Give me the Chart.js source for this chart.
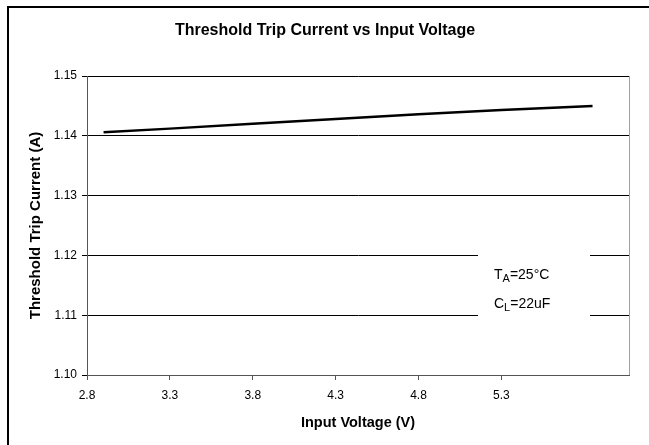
<!DOCTYPE html>
<html>
<head>
<meta charset="utf-8">
<script src="https://cdn.jsdelivr.net/npm/chart.js@4/dist/chart.umd.min.js"></script>
<style>
  html, body { margin: 0; padding: 0; background: #fff; }
  #wrap { width: 649px; height: 445px; }
</style>
</head>
<body>
<div id="wrap"><canvas id="c" width="649" height="445"></canvas></div>
<script>
// data
const voltage = [2.9, 3.3, 3.8, 4.3, 4.8, 5.3, 5.85];
const tripCurrent = [1.1406, 1.1412, 1.1420, 1.1428, 1.1436, 1.1443, 1.1450];
const xTickLabels = [2.8, 3.3, 3.8, 4.3, 4.8, 5.3];
const yTickLabels = [1.10, 1.11, 1.12, 1.13, 1.14, 1.15];

const FONT = "'Liberation Sans', Arial, sans-serif";

const decorations = {
  id: "decorations",
  afterDraw(chart) {
    const ctx = chart.ctx;
    const area = chart.chartArea;
    ctx.save();

    // outer frame (left + top only visible)
    ctx.strokeStyle = "#000";
    ctx.lineWidth = 2;
    ctx.beginPath();
    ctx.moveTo(8, 445);
    ctx.lineTo(8, 7);
    ctx.lineTo(649, 7);
    ctx.stroke();

    // right edge of plot area
    ctx.strokeStyle = "#a0a0a0";
    ctx.lineWidth = 1;
    ctx.beginPath();
    ctx.moveTo(area.right + 0.5, area.top);
    ctx.lineTo(area.right + 0.5, area.bottom);
    ctx.stroke();

    // titles
    ctx.fillStyle = "#000";
    ctx.textAlign = "center";
    ctx.textBaseline = "middle";
    ctx.font = "bold 16px " + FONT;
    ctx.fillText("Threshold Trip Current vs Input Voltage", 325, 31);

    ctx.font = "bold 14.5px " + FONT;
    ctx.fillText("Input Voltage (V)", (area.left + area.right) / 2, 423);

    ctx.save();
    ctx.translate(36, (area.top + area.bottom) / 2);
    ctx.rotate(-Math.PI / 2);
    ctx.font = "bold 15px " + FONT;
    ctx.fillText("Threshold Trip Current (A)", 0, 0);
    ctx.restore();

    // condition box
    ctx.fillStyle = "#fff";
    ctx.fillRect(478, 245, 112, 80);
    ctx.fillStyle = "#000";
    ctx.textAlign = "left";
    ctx.textBaseline = "alphabetic";
    const sub = (main, subText, rest, x, y) => {
      ctx.font = "14px " + FONT;
      ctx.fillText(main, x, y);
      let w = ctx.measureText(main).width;
      ctx.font = "11px " + FONT;
      ctx.fillText(subText, x + w, y + 3);
      w += ctx.measureText(subText).width;
      ctx.font = "14px " + FONT;
      ctx.fillText(rest, x + w, y);
    };
    sub("T", "A", "=25°C", 494, 279);
    sub("C", "L", "=22uF", 494, 308);

    ctx.restore();
  }
};

new Chart(document.getElementById("c"), {
  type: "line",
  data: {
    datasets: [{
      data: voltage.map((v, i) => ({ x: v, y: tripCurrent[i] })),
      borderColor: "#000",
      borderWidth: 2.5,
      pointRadius: 0,
      tension: 0,
      fill: false
    }]
  },
  options: {
    responsive: false,
    animation: false,
    events: [],
    layout: { padding: { left: 0, top: 76, right: 20, bottom: 0 } },
    plugins: { legend: { display: false }, tooltip: { enabled: false }, title: { display: false } },
    scales: {
      x: {
        type: "linear",
        min: 2.8,
        max: 6.07,
        afterFit: (s) => { s.height = 70; },
        afterBuildTicks: (s) => { s.ticks = xTickLabels.map((v) => ({ value: v })); },
        ticks: {
          color: "#000",
          font: { family: FONT, size: 12 },
          padding: 8,
          maxRotation: 0,
          callback: (v) => Number(v).toFixed(1)
        },
        grid: { drawOnChartArea: false, drawTicks: true, tickLength: 5, color: "#555" },
        border: { display: true, color: "#555", width: 1 }
      },
      y: {
        min: 1.10,
        max: 1.15,
        afterFit: (s) => { s.width = 87; },
        afterBuildTicks: (s) => { s.ticks = yTickLabels.map((v) => ({ value: v })); },
        ticks: {
          color: "#000",
          font: { family: FONT, size: 12 },
          padding: 5,
          callback: (v) => Number(v).toFixed(2)
        },
        grid: { color: "#000", lineWidth: 1, tickLength: 5 },
        border: { display: true, color: "#555", width: 1 }
      }
    }
  },
  plugins: [decorations]
});
</script>
</body>
</html>
